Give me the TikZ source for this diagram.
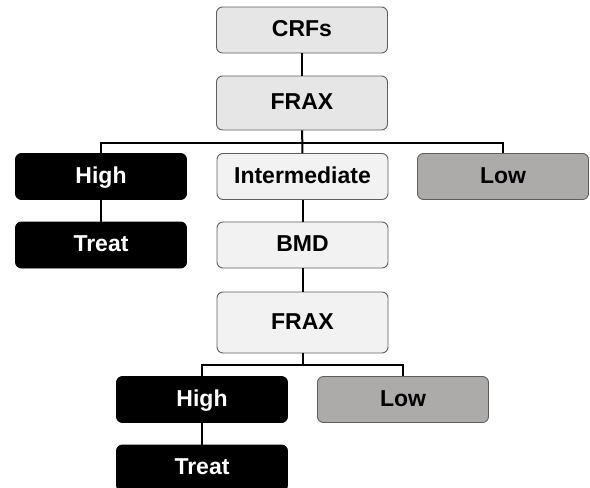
\documentclass[tikz,border=0pt]{standalone}
\usepackage{fontspec}
\setmainfont{Liberation Sans}
\usetikzlibrary{calc}

\definecolor{topfill}{HTML}{E6E6E6}
\definecolor{midfill}{HTML}{F2F2F2}
\definecolor{lowfill}{HTML}{ADAAAA}
\definecolor{edgegray}{HTML}{5F5F5F}

\begin{document}
\begin{tikzpicture}[x=1pt, y=-1pt,
    box/.style={draw=edgegray, line width=0.9pt, rounded corners=6pt,
        minimum width=171pt, minimum height=46pt, inner sep=0pt,
        text height=17pt, text depth=4pt,
        font=\fontsize{23}{26}\selectfont\bfseries},
    light/.style={box, fill=topfill},
    pale/.style={box, fill=midfill},
    dark/.style={box, fill=black, draw=black, text=white},
    low/.style={box, fill=lowfill},
    link/.style={line width=2pt, black}]

    % Page frame
    \useasboundingbox (0,0) rectangle (590,488);

    % 1. First assessment
    \node[light] (crfs) at (302,30) {CRFs};
    \node[light, minimum height=54pt] (frax) at (302,103) {FRAX};

    % 2. Risk groups after FRAX
    \node[dark] (high) at (101,176.5) {High};
    \node[pale] (inter) at (302.5,176.5) {Intermediate};
    \node[low] (low) at (503,176.5) {Low};
    \node[dark] (treat) at (101,245) {Treat};

    % 3. Intermediate group goes to BMD
    \node[pale] (bmd) at (302.5,245) {BMD};
    \node[pale, minimum height=61pt] (frax2) at (302.5,322.5) {FRAX};

    % 4. Risk groups after the second FRAX
    \node[dark] (high2) at (202,399.5) {High};
    \node[low] (low2) at (403,399.5) {Low};
    \node[dark] (treat2) at (202,468) {Treat};

    % Split points of the tree
    \coordinate (split) at (302.5,143);
    \coordinate (split2) at (302.5,365);

    % 5. Connectors
    \draw[link] (crfs) -- (frax);
    \draw[link] (frax) -- (inter);
    \draw[link] (high.north) |- (split) -| (low.north);
    \draw[link] (high) -- (treat);
    \draw[link] (inter) -- (bmd);
    \draw[link] (bmd) -- (frax2);
    \draw[link] (frax2) -- (split2);
    \draw[link] (high2.north) |- (split2) -| (low2.north);
    \draw[link] (high2) -- (treat2);

\end{tikzpicture}
\end{document}
